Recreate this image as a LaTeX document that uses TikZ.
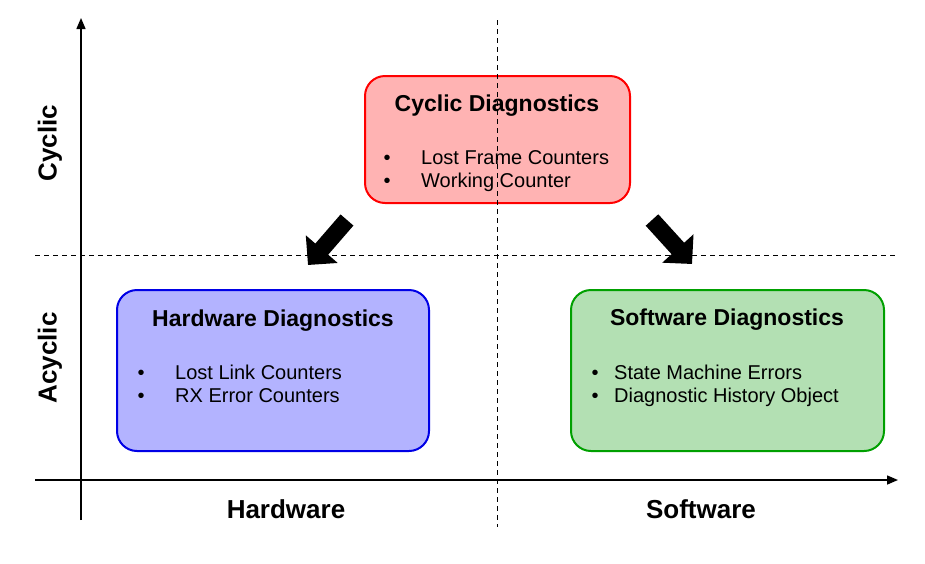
\documentclass[tikz,border=0pt]{standalone}
\usepackage{fontspec}
\setmainfont{Liberation Sans}
\usetikzlibrary{arrows.meta}

\definecolor{cycfill}{HTML}{FFB3B3}
\definecolor{cycdraw}{HTML}{FF0000}
\definecolor{hwfill}{HTML}{B3B3FF}
\definecolor{hwdraw}{HTML}{0000E6}
\definecolor{swfill}{HTML}{B3E0B3}
\definecolor{swdraw}{HTML}{00A000}

\begin{document}
\begin{tikzpicture}[
    x=1pt, y=-1pt,
    axis/.style = {draw, line width=1.5pt, -{Triangle[length=11pt, width=9pt]}},
    split/.style = {draw, line width=1pt, dash pattern=on 5pt off 4pt},
    bigarrow/.style = {draw, line width=17pt, -{Triangle[length=21pt, width=41pt]}},
    diagbox/.style = {rectangle, rounded corners=20pt, line width=2pt, inner sep=0pt},
    boxtitle/.style = {font=\fontsize{23}{27}\selectfont\bfseries, anchor=base, inner sep=0pt},
    boxitem/.style = {font=\fontsize{20}{24}\selectfont, anchor=base west, inner sep=0pt},
    bullet/.style = {font=\fontsize{20}{24}\selectfont, anchor=base, inner sep=0pt},
    axislabel/.style = {font=\fontsize{26}{30}\selectfont\bfseries, inner sep=0pt}
  ]
  \useasboundingbox (0,0) rectangle (925,563);

  % quadrant boxes
  \node (cyclic) [diagbox, fill=cycfill, draw=cycdraw, minimum width=265pt, minimum height=127pt] at (497.5,139.5) {};
  \node (hardware) [diagbox, fill=hwfill, draw=hwdraw, minimum width=312pt, minimum height=161pt] at (273,370.5) {};
  \node (software) [diagbox, fill=swfill, draw=swdraw, minimum width=313pt, minimum height=161pt] at (727.5,370.5) {};

  % axes and quadrant borders
  \coordinate (yfoot) at (81,520);
  \coordinate (ytop) at (81,18);
  \coordinate (xfoot) at (35,480);
  \coordinate (xtop) at (898,480);
  \coordinate (hleft) at (35,255);
  \coordinate (hright) at (898,255);
  \coordinate (vtop) at (497,20);
  \coordinate (vbottom) at (497,527);
  \path[axis] (yfoot) -- (ytop);
  \path[axis] (xfoot) -- (xtop);
  \path[split] (hleft) -- (hright);
  \path[split] (vtop) -- (vbottom);

  % box texts
  \node (cyctitle) [boxtitle] at (497,111.5) {Cyclic Diagnostics};
  \node (cycb1) [bullet] at (387,164) {\textbullet};
  \node (cycb2) [bullet] at (387,187) {\textbullet};
  \node (cycitem1) [boxitem] at (421,164) {Lost Frame Counters};
  \node (cycitem2) [boxitem] at (421,187) {Working Counter};

  \node (hwtitle) [boxtitle] at (273,326.5) {Hardware Diagnostics};
  \node (hwb1) [bullet] at (141,379) {\textbullet};
  \node (hwb2) [bullet] at (141,402) {\textbullet};
  \node (hwitem1) [boxitem] at (175,379) {Lost Link Counters};
  \node (hwitem2) [boxitem] at (175,402) {RX Error Counters};

  \node (swtitle) [boxtitle] at (727,325.5) {Software Diagnostics};
  \node (swb1) [bullet] at (595,379) {\textbullet};
  \node (swb2) [bullet] at (595,402) {\textbullet};
  \node (switem1) [boxitem] at (614,379) {State Machine Errors};
  \node (switem2) [boxitem] at (614,402) {Diagnostic History Object};

  % axis labels
  \node (cyclbl) [axislabel, rotate=90] at (50,143) {Cyclic};
  \node (acyclbl) [axislabel, rotate=90] at (50,358) {Acyclic};
  \node (hwlbl) [axislabel, anchor=base] at (286,518) {Hardware};
  \node (swlbl) [axislabel, anchor=base] at (701,518) {Software};

  % thick arrows
  \coordinate (lefttail) at (347,220);
  \coordinate (lefttip) at (308,265);
  \coordinate (righttail) at (652,220);
  \coordinate (righttip) at (692,264);
  \path[bigarrow] (lefttail) -- (lefttip);
  \path[bigarrow] (righttail) -- (righttip);
\end{tikzpicture}
\end{document}
